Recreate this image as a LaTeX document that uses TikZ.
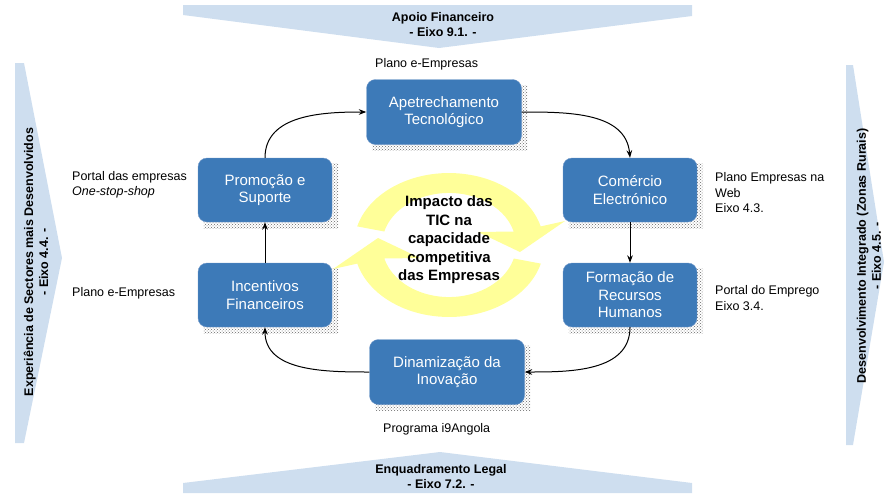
\documentclass[tikz,border=0pt]{standalone}
\usepackage{fontspec}
\setmainfont{Liberation Sans}
\usetikzlibrary{arrows.meta,patterns,backgrounds}

\definecolor{boxblue}{RGB}{61,122,184}
\definecolor{boxline}{RGB}{110,150,200}
\definecolor{bandblue}{RGB}{206,222,239}
\definecolor{ringyellow}{RGB}{255,255,153}

\begin{document}
\begin{tikzpicture}[x=1pt, y=-1pt, >=Stealth,
    box/.style={rectangle, rounded corners=9pt, draw=boxline, fill=boxblue, text=white,
        align=center, minimum width=134pt, minimum height=64pt,
        font=\fontsize{15}{17.5}\selectfont},
    wide/.style={minimum width=155pt, minimum height=65pt},
    dotshadow/.style={pattern=crosshatch dots, pattern color=black!60},
    bandtext/.style={align=center, font=\bfseries\fontsize{12.5}{15}\selectfont},
    note/.style={anchor=west, align=left, inner sep=0pt, font=\fontsize{12.5}{15.5}\selectfont}]

        \useasboundingbox (0,0) rectangle (884,493);

        % Bands
        \fill[bandblue] (183,5) -- (692,5) -- (692,16) -- (439,48) -- (183,15) -- cycle;
        \fill[bandblue] (183,493) -- (183,483) -- (440,452) -- (692,483) -- (692,493) -- cycle;
        \fill[bandblue] (15,63) -- (24,63) -- (62,258) -- (24,443) -- (15,443) -- cycle;
        \fill[bandblue] (846,65) -- (853,65) -- (884,262) -- (853,445) -- (846,445) -- cycle;

        \node (apoio) [bandtext] at (443,25) {Apoio Financeiro\\- Eixo 9.1. -};
        \node (enqu) [bandtext] at (441,477) {Enquadramento Legal\\- Eixo 7.2. -};
        \node (expe) [bandtext, rotate=90] at (36,262) {Experiência de Sectores mais Desenvolvidos\\- Eixo 4.4. -};
        \node (dese) [bandtext, rotate=90] at (869,256) {Desenvolvimento Integrado (Zonas Rurais)\\- Eixo 4.5. -};

        \node (impacto) [align=center, font=\bfseries\fontsize{15}{18.5}\selectfont] at (449,240)
            {Impacto das\\TIC na\\capacidade\\competitiva\\das Empresas};

        % Nodes
        \node (apet) [box, wide] at (444,112) {Apetrechamento\\Tecnológico};
        \node (come) [box] at (630,190) {Comércio\\Electrónico};
        \node (form) [box] at (630,295) {Formação de\\Recursos\\Humanos};
        \node (dina) [box, wide] at (447,372) {Dinamização da\\Inovação};
        \node (ince) [box] at (265,295) {Incentivos\\Financeiros};
        \node (prom) [box] at (265,190) {Promoção e\\Suporte};

        % Yellow cycle and shadows
        \begin{scope}[on background layer]
        \fill[ringyellow] (357.2,226.4) arc[start angle=195, end angle=345, x radius=95, y radius=72]
            -- (565,221) -- (520,252) -- (478,232) -- (513.7,231.5)
            arc[start angle=345, end angle=195, x radius=67, y radius=52] -- cycle;
        \fill[ringyellow] (540.8,263.6) arc[start angle=15, end angle=165, x radius=95, y radius=72]
            -- (333,269) -- (378,238) -- (420,258) -- (384.3,258.5)
            arc[start angle=165, end angle=15, x radius=67, y radius=52] -- cycle;
        \foreach \n in {apet,come,form,dina,ince,prom}
            \fill[dotshadow] ([shift={(6,6)}]\n.north west) rectangle ([shift={(6,6)}]\n.south east);
        \end{scope}

        % Edges
        \draw[->, line width=1pt] (apet.east) to[out=0, in=95] (come.north);
        \draw[->, line width=1pt] (come) -- (form);
        \draw[->, line width=1pt] (form.south) to[out=-90, in=0] (dina.east);
        \draw[->, line width=1pt] (dina.west) to[out=180, in=-90] (ince.south);
        \draw[->, line width=1pt] (ince) -- (prom);
        \draw[->, line width=1pt] (prom.north) to[out=90, in=180] (apet.west);

        % Programmes
        \node (plano1) [note] at (375,64) {Plano e-Empresas};
        \node (portal) [note] at (72,185) {Portal das empresas\\\textit{One-stop-shop}};
        \node (plano2) [note] at (72,293) {Plano e-Empresas};
        \node (webemp) [note] at (715,193) {Plano Empresas na\\Web\\Eixo 4.3.};
        \node (emprego) [note] at (715,298) {Portal do Emprego\\Eixo 3.4.};
        \node (i9) [note] at (383,429) {Programa i9Angola};

    \end{tikzpicture}
\end{document}
